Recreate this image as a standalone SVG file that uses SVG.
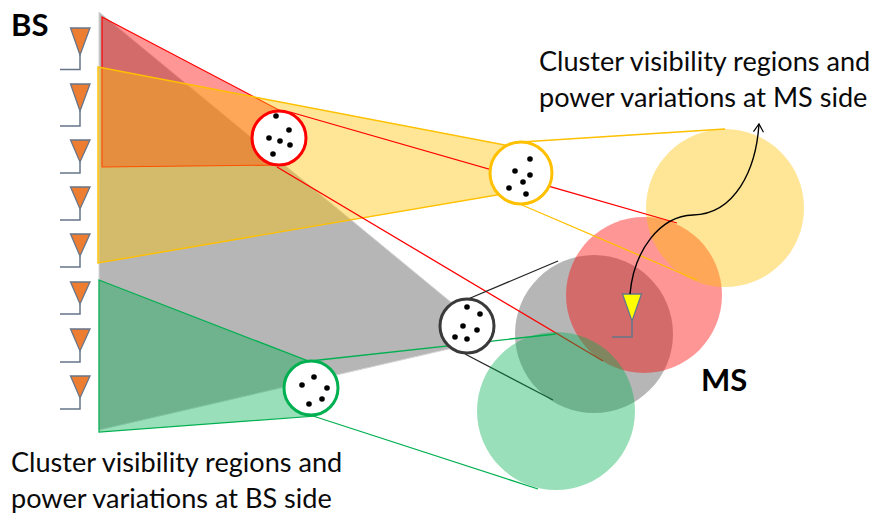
<svg xmlns="http://www.w3.org/2000/svg" width="871" height="516" viewBox="0 0 871 516">
<style>
.t{font-family:Lato,"Liberation Sans",sans-serif;font-size:27.1px;fill:#0a0a0a}
.b{font-family:Lato,"Liberation Sans",sans-serif;font-size:31px;font-weight:700;fill:#000}
.ant{fill:#ED7D31;stroke:#66758a;stroke-width:1.3}
.st{fill:none;stroke:#66758a;stroke-width:1.5}
.c{fill:#fff;stroke-width:3}
.l{fill:none;stroke-width:1.3}
.gy{fill:#7f7c7c;fill-opacity:.56}
.rd{fill:#ff0000;fill-opacity:.41}
.ye{fill:#ffc000;fill-opacity:.41}
.gn{fill:#00b050;fill-opacity:.4}
</style>
<defs><marker id="open" markerUnits="userSpaceOnUse" markerWidth="12" markerHeight="12" refX="9" refY="6" orient="auto"><path d="M1,1 L9,6 L1,11" fill="none" stroke="#000" stroke-width="1.2"/></marker></defs>
<g id="beams">
<polygon class="gy" points="99,12 458,308 466,345 99,430" stroke="#d4d4d4" stroke-width="1"/>
<polygon class="rd" points="102,17 279,110 279,165 102,167" stroke="#ff0000" stroke-width="1.2"/>
<polygon class="ye" points="98,67 520,148 520,191 98,263" stroke="#ffc000" stroke-width="1.4"/>
<polygon class="gn" points="99,280 316,364 316,416 99,432" stroke="#00b050" stroke-width="1.2"/>
</g>
<g id="region-gray"><circle class="gy" cx="594" cy="334" r="79"/></g>
<g id="region-red"><circle class="rd" cx="644" cy="295" r="78"/></g>
<g id="region-yellow"><circle class="ye" cx="725" cy="208" r="79"/></g>
<g id="connectors">
<path class="l" stroke="#ff0000" d="M290,112L677,223M277,167L603,361"/>
<path class="l" stroke="#ffc000" d="M521,142L725,129M522,205L697,280"/>
<path class="l" stroke="#262626" d="M468,299L558,261M465,354L553,400"/>
<path class="l" stroke="#00b050" d="M310,361L556,334M313,416L538,489"/>
</g>
<g id="region-green"><circle class="gn" cx="556" cy="411" r="79"/></g>
<g id="cluster-red"><circle class="c" stroke="#ff0000" cx="279" cy="138" r="27"/><g><circle cx="276" cy="116" r="2.8"/><circle cx="289" cy="130" r="2.8"/><circle cx="269" cy="138" r="2.8"/><circle cx="280" cy="141" r="2.8"/><circle cx="290" cy="145" r="2.8"/><circle cx="273" cy="154" r="2.8"/></g></g>
<g id="cluster-yellow"><circle class="c" stroke="#ffc000" cx="521" cy="173" r="31"/><g><circle cx="530" cy="159" r="2.8"/><circle cx="515" cy="171" r="2.8"/><circle cx="530" cy="175" r="2.8"/><circle cx="523" cy="182" r="2.8"/><circle cx="509" cy="188" r="2.8"/><circle cx="526" cy="194" r="2.8"/></g></g>
<g id="cluster-black"><circle class="c" stroke="#3a3a3a" cx="467" cy="326" r="27"/><g><circle cx="467" cy="307" r="2.8"/><circle cx="480" cy="314" r="2.8"/><circle cx="463" cy="326" r="2.8"/><circle cx="477" cy="330" r="2.8"/><circle cx="455" cy="337" r="2.8"/><circle cx="467" cy="339" r="2.8"/></g></g>
<g id="cluster-green"><circle class="c" stroke="#00b050" cx="311" cy="388" r="27"/><g><circle cx="314" cy="377" r="2.8"/><circle cx="302" cy="385" r="2.8"/><circle cx="327" cy="388" r="2.8"/><circle cx="322" cy="399" r="2.8"/><circle cx="309" cy="404" r="2.8"/></g></g>
<g id="bs-antennas">
<g id="bs1"><polygon class="ant" points="70.500,28 90,28 80,55"/><path class="st" d="M80,55V69.500H60"/></g>
<g id="bs2"><polygon class="ant" points="70.500,84 90,84 80,111"/><path class="st" d="M80,111V126H60"/></g>
<g id="bs3"><polygon class="ant" points="70.500,140 90,140 80,162"/><path class="st" d="M80,162V173H60"/></g>
<g id="bs4"><polygon class="ant" points="70.500,187 90,187 80,209"/><path class="st" d="M80,209V220H60"/></g>
<g id="bs5"><polygon class="ant" points="70.500,234 90,234 80,256"/><path class="st" d="M80,256V267H60"/></g>
<g id="bs6"><polygon class="ant" points="70.500,282 90,282 80,304"/><path class="st" d="M80,304V314H60"/></g>
<g id="bs7"><polygon class="ant" points="70.500,329 90,329 80,351"/><path class="st" d="M80,351V362H60"/></g>
<g id="bs8"><polygon class="ant" points="70.500,376 90,376 80,398"/><path class="st" d="M80,398V409H60"/></g>
</g>
<g id="ms-antenna"><polygon class="ant" style="fill:#ffff00" points="622.500,294 641.500,294 632,321"/><path class="st" d="M632,321V337H612"/></g>
<g id="path-arrow"><path d="M630,294C634,250 660,216 693,215C735,214 756,170 759,124" fill="none" stroke="#000" stroke-width="1.4" marker-end="url(#open)"/></g>
<g id="labels">
<text class="b" x="11" y="36">BS</text>
<text class="b" x="701" y="391">MS</text>
<text class="t" x="539" y="71">Cluster visibility regions and</text>
<text class="t" x="539" y="107">power variations at MS side</text>
<text class="t" x="11" y="472">Cluster visibility regions and</text>
<text class="t" x="11" y="508">power variations at BS side</text>
</g>
</svg>
